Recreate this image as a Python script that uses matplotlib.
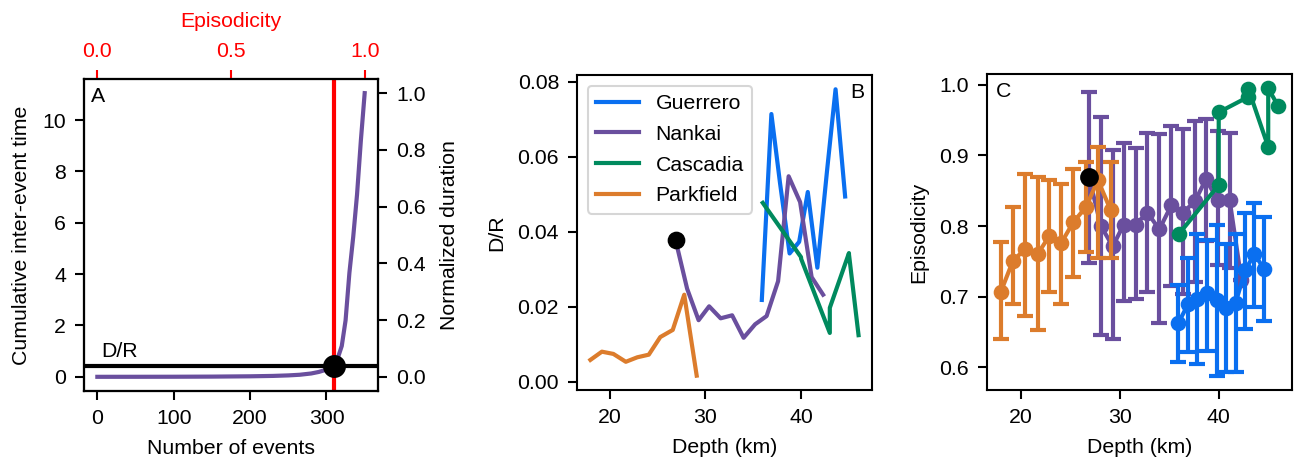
import numpy as np
import matplotlib
matplotlib.use('Agg')
import matplotlib.pyplot as plt

plt.rcParams['font.family'] = ['Liberation Sans', 'DejaVu Sans']
plt.rcParams['font.size'] = 10.2
plt.rcParams['axes.linewidth'] = 1.0
plt.rcParams['xtick.major.size'] = 4.4
plt.rcParams['ytick.major.size'] = 4.4
plt.rcParams['xtick.major.width'] = 1.0
plt.rcParams['ytick.major.width'] = 1.0
plt.rcParams['xtick.major.pad'] = 4.2
plt.rcParams['ytick.major.pad'] = 4.2
plt.rcParams['axes.labelpad'] = 5.5

# panel A: cumulative inter-event time
n_events = [0, 50, 100, 150, 200, 230, 250, 265, 280, 290, 300, 310, 315, 320,
            325, 330, 335, 340, 345, 350]
cum_time = [0, 0.001, 0.003, 0.008, 0.02, 0.035, 0.055, 0.08, 0.13, 0.19, 0.28,
            0.43, 0.75, 1.2, 2.2, 4.05, 5.45, 7.1, 9.2, 11.05]
n_total = 350
dr_level = 0.42
n_cross = 310

# panel B / C
park_depth = [18.0, 19.2, 20.4, 21.7, 22.9, 24.1, 25.3, 26.6, 27.8, 29.1]
park_dr = [0.0058, 0.0080, 0.0074, 0.0053, 0.0065, 0.0072, 0.0119, 0.0138, 0.0232, 0.0016]
park_ep = [0.707, 0.750, 0.767, 0.760, 0.786, 0.776, 0.805, 0.827, 0.865, 0.822]
park_lo = [0.640, 0.690, 0.673, 0.653, 0.707, 0.690, 0.727, 0.763, 0.754, 0.754]
park_hi = [0.777, 0.827, 0.874, 0.869, 0.865, 0.859, 0.881, 0.891, 0.912, 0.890]

nank_depth = [26.9, 28.1, 29.3, 30.4, 31.6, 32.8, 34.0, 35.2, 36.4, 37.6, 38.7, 39.9, 41.1, 42.3]
nank_dr = [0.0377, 0.0248, 0.0164, 0.0201, 0.0169, 0.0177, 0.0117, 0.0153, 0.0175,
           0.0268, 0.0548, 0.0479, 0.0279, 0.0232]
nank_ep = [0.869, 0.800, 0.771, 0.802, 0.802, 0.819, 0.795, 0.829, 0.819, 0.835,
           0.866, 0.837, 0.837, 0.723]
nank_lo = [0.748, 0.645, 0.640, 0.694, 0.697, 0.706, 0.663, 0.715, 0.704, 0.721,
           0.779, 0.744, 0.740, 0.723]
nank_hi = [0.990, 0.955, 0.907, 0.918, 0.910, 0.932, 0.930, 0.942, 0.938, 0.949,
           0.951, 0.934, 0.931, 0.723]

guer_depth = [35.9, 36.9, 37.8, 38.8, 39.8, 40.7, 41.7, 42.7, 43.6, 44.6]
guer_dr = [0.0218, 0.0714, 0.053, 0.0342, 0.0373, 0.0506, 0.0304, 0.056, 0.078, 0.0494]
guer_ep = [0.662, 0.689, 0.697, 0.705, 0.695, 0.684, 0.691, 0.738, 0.760, 0.739]
guer_lo = [0.607, 0.621, 0.605, 0.623, 0.588, 0.593, 0.593, 0.654, 0.685, 0.666]
guer_hi = [0.716, 0.755, 0.789, 0.780, 0.801, 0.775, 0.788, 0.818, 0.832, 0.812]

casc_depth = [36.0, 40.0, 40.0, 43.0, 43.0, 45.0, 45.0, 46.0]
casc_dr = [0.0477, 0.0332, 0.0328, 0.0130, 0.0197, 0.0343, 0.0340, 0.0124]
casc_ep = [0.789, 0.858, 0.961, 0.983, 0.994, 0.912, 0.995, 0.970]

c_guer = '#0a6ff0'
c_nank = '#6a4f9e'
c_casc = '#008a5e'
c_park = '#dc7c2c'

fig = plt.figure(figsize=(8.64, 3.087), dpi=150)

# ---- A ----
axA = fig.add_axes([0.0648, 0.1555, 0.2269, 0.6739])
axA.plot(n_events, cum_time, color=c_nank, lw=2.0)
axA.axhline(dr_level, color='k', lw=2.0)
axA.axvline(n_cross, color='red', lw=2.0)
axA.plot(n_cross, dr_level, 'o', color='k', ms=10, zorder=5)
axA.text(5, 0.62, 'D/R', va='bottom', ha='left')
axA.text(0.025, 0.975, 'A', transform=axA.transAxes, va='top', ha='left')
axA.set_xlabel('Number of events')
axA.set_ylabel('Cumulative inter-event time')
axA.set_xticks([0, 100, 200, 300])
axA.set_yticks([0, 2, 4, 6, 8, 10])
xl = axA.get_xlim()
yl = axA.get_ylim()

axR = axA.twinx()
axR.set_ylim(yl[0] / max(cum_time), yl[1] / max(cum_time))
axR.set_yticks([0.0, 0.2, 0.4, 0.6, 0.8, 1.0])
axR.set_ylabel('Normalized duration', labelpad=7)

axT = axA.twiny()
axT.set_xlim(xl[0] / n_total, xl[1] / n_total)
axT.set_xticks([0.0, 0.5, 1.0])
axT.tick_params(axis='x', colors='red')
axT.spines['top'].set_color('k')
axT.set_xlabel('Episodicity', color='red', labelpad=7)

# ---- B ----
axB = fig.add_axes([0.4452, 0.1577, 0.2276, 0.6803])
axB.plot(guer_depth, guer_dr, color=c_guer, lw=2.0, label='Guerrero')
axB.plot(nank_depth, nank_dr, color=c_nank, lw=2.0, label='Nankai')
axB.plot(casc_depth, casc_dr, color=c_casc, lw=2.0, label='Cascadia')
axB.plot(park_depth, park_dr, color=c_park, lw=2.0, label='Parkfield')
axB.plot(nank_depth[0], nank_dr[0], 'o', color='k', ms=7.5, zorder=5)
axB.set_xticks([20, 30, 40])
axB.set_yticks([0.0, 0.02, 0.04, 0.06, 0.08])
axB.set_xlabel('Depth (km)')
axB.set_ylabel('D/R')
axB.text(0.975, 0.975, 'B', transform=axB.transAxes, va='top', ha='right')
axB.legend(loc='upper left', labelspacing=0.55)

# ---- C ----
axC = fig.add_axes([0.7616, 0.1577, 0.2353, 0.6825])
eb = dict(fmt='-o', lw=2.0, ms=6.5, capsize=3.8, capthick=2.0, elinewidth=2.0)
axC.errorbar(nank_depth, nank_ep,
             yerr=[np.subtract(nank_ep, nank_lo), np.subtract(nank_hi, nank_ep)],
             color=c_nank, zorder=2, **eb)
axC.errorbar(guer_depth, guer_ep,
             yerr=[np.subtract(guer_ep, guer_lo), np.subtract(guer_hi, guer_ep)],
             color=c_guer, zorder=3, **eb)
axC.plot(casc_depth, casc_ep, '-o', color=c_casc, lw=2.0, ms=6.5, zorder=4)
axC.errorbar(park_depth, park_ep,
             yerr=[np.subtract(park_ep, park_lo), np.subtract(park_hi, park_ep)],
             color=c_park, zorder=4, **eb)
axC.plot(nank_depth[0], nank_ep[0], 'o', color='k', ms=8, zorder=6)
axC.set_xticks([20, 30, 40])
axC.set_yticks([0.6, 0.7, 0.8, 0.9, 1.0])
axC.set_xlabel('Depth (km)')
axC.set_ylabel('Episodicity')
axC.text(0.03, 0.975, 'C', transform=axC.transAxes, va='top', ha='left')

fig.savefig('out.png', dpi=150)
